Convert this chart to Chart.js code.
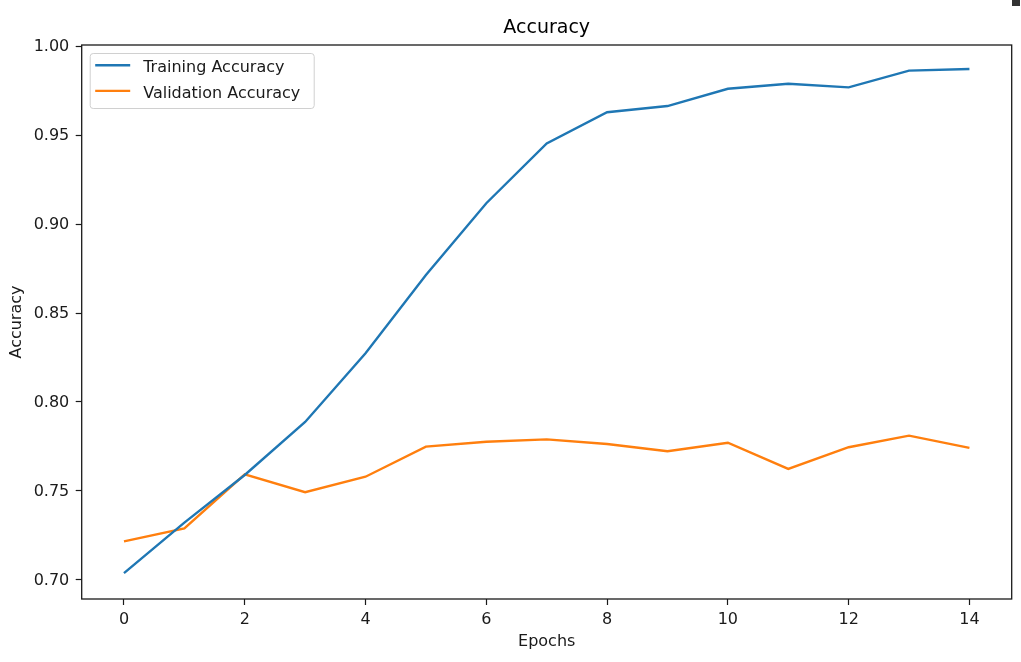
<!DOCTYPE html>
<html>
<head>
<meta charset="utf-8">
<script src="https://cdn.jsdelivr.net/npm/chart.js@4.4.0/dist/chart.umd.min.js"></script>
<style>
  html, body { margin: 0; padding: 0; background: #ffffff; }
  #c { display: block; }
</style>
</head>
<body>
<canvas id="c" width="1021" height="662"></canvas>
<script>
// ---- data ----
const epochs = [0, 1, 2, 3, 4, 5, 6, 7, 8, 9, 10, 11, 12, 13, 14];
const trainingAccuracy = [0.7038, 0.7322, 0.7590, 0.7888, 0.8274, 0.8714, 0.9117, 0.9453, 0.9628, 0.9663, 0.9760, 0.9788, 0.9768, 0.9862, 0.9871];
const validationAccuracy = [0.7217, 0.7290, 0.7594, 0.7493, 0.7580, 0.7749, 0.7777, 0.7790, 0.7764, 0.7723, 0.7771, 0.7624, 0.7746, 0.7811, 0.7742];
const xTicks = [0, 2, 4, 6, 8, 10, 12, 14];
const yTicks = [0.70, 0.75, 0.80, 0.85, 0.90, 0.95, 1.00];
const seriesNames = ['Training Accuracy', 'Validation Accuracy'];
const chartTitle = 'Accuracy';
const xTitle = 'Epochs';
const yTitle = 'Accuracy';

Chart.defaults.font.family = "'DejaVu Sans', sans-serif";
Chart.defaults.color = '#1a1a1a';

const toPoints = (vals) => epochs.map((e, i) => ({ x: e, y: vals[i] }));

const framePlugin = {
  id: 'frame',
  afterDatasetsDraw(chart) {
    const { ctx, chartArea: a } = chart;
    ctx.save();
    ctx.strokeStyle = '#1a1a1a';
    ctx.lineWidth = 1.3;
    ctx.strokeRect(a.left, a.top, a.right - a.left, a.bottom - a.top);
    ctx.restore();
  },
  afterDraw(chart) {
    const { ctx } = chart;
    const a = chart.chartArea;
    ctx.save();
    // title centred over the plot area (matplotlib style)
    ctx.fillStyle = '#000000';
    ctx.font = "19px 'DejaVu Sans'";
    ctx.textAlign = 'center';
    ctx.textBaseline = 'middle';
    ctx.fillText(chartTitle, (a.left + a.right) / 2, 28.3);
    // legend box (custom, matplotlib-like)
    const bx = a.left + 8.5, by = a.top + 8.5, bw = 224, bh = 55;
    ctx.fillStyle = 'rgba(255,255,255,0.8)';
    ctx.strokeStyle = '#d0d0d0';
    ctx.lineWidth = 1;
    ctx.beginPath();
    ctx.roundRect(bx, by, bw, bh, 3);
    ctx.fill();
    ctx.stroke();
    chart.data.datasets.forEach((ds, i) => {
      const ly = by + 11.7 + i * 25.7;
      ctx.strokeStyle = ds.borderColor;
      ctx.lineWidth = 2.4;
      ctx.beginPath();
      ctx.moveTo(bx + 5, ly);
      ctx.lineTo(bx + 40, ly);
      ctx.stroke();
      ctx.fillStyle = '#1a1a1a';
      ctx.font = "16px 'DejaVu Sans'";
      ctx.textBaseline = 'middle';
      ctx.textAlign = 'left';
      ctx.fillText(ds.label, bx + 53, ly + 2.8);
    });
    // small dark mark at the top-right corner of the reference image
    ctx.fillStyle = '#333333';
    ctx.fillRect(1012, 0, 8, 6);
    ctx.restore();
  }
};

new Chart(document.getElementById('c'), {
  type: 'line',
  data: {
    datasets: [
      {
        label: seriesNames[0],
        data: toPoints(trainingAccuracy),
        borderColor: '#1f77b4',
        backgroundColor: '#1f77b4',
        borderWidth: 2.4,
        pointRadius: 0,
        tension: 0,
        fill: false
      },
      {
        label: seriesNames[1],
        data: toPoints(validationAccuracy),
        borderColor: '#ff7f0e',
        backgroundColor: '#ff7f0e',
        borderWidth: 2.4,
        pointRadius: 0,
        tension: 0,
        fill: false
      }
    ]
  },
  options: {
    responsive: false,
    animation: false,
    devicePixelRatio: 1,
    layout: { padding: { left: 0, right: 9.3, top: 0, bottom: 0 } },
    plugins: {
      legend: { display: false },
      tooltip: { enabled: false },
      title: {
        display: true,
        text: chartTitle,
        color: 'rgba(0,0,0,0)',
        font: { size: 19, weight: 'normal' },
        padding: { top: 16.9, bottom: 5.3 }
      }
    },
    scales: {
      x: {
        type: 'linear',
        min: -0.7,
        max: 14.7,
        afterBuildTicks: (s) => { s.ticks = xTicks.map(v => ({ value: v })); },
        afterFit: (s) => { s.height = 63; s.paddingLeft = 0; s.paddingRight = 0; },
        border: { display: false },
        grid: { drawOnChartArea: false, drawTicks: true, tickLength: 6, tickColor: '#1a1a1a', tickWidth: 1.2 },
        ticks: { autoSkip: false, maxRotation: 0, padding: 5, color: '#1a1a1a', font: { size: 16 }, callback: (v) => String(v) },
        title: { display: true, text: xTitle, color: '#1a1a1a', font: { size: 16 }, padding: { top: 0, bottom: 10.6 } }
      },
      y: {
        type: 'linear',
        min: 0.6893,
        max: 1.0006,
        afterBuildTicks: (s) => { s.ticks = yTicks.map(v => ({ value: v })); },
        afterFit: (s) => { s.width = 81.7; s.paddingTop = 0; s.paddingBottom = 0; },
        border: { display: false },
        grid: { drawOnChartArea: false, drawTicks: true, tickLength: 6, tickColor: '#1a1a1a', tickWidth: 1.2 },
        ticks: { autoSkip: false, padding: 6.4, labelOffset: 1, color: '#1a1a1a', font: { size: 16 }, callback: (v) => Number(v).toFixed(2) },
        title: { display: true, text: yTitle, color: '#1a1a1a', font: { size: 16 }, padding: { top: 7, bottom: 0 } }
      }
    }
  },
  plugins: [framePlugin]
});
</script>
</body>
</html>
